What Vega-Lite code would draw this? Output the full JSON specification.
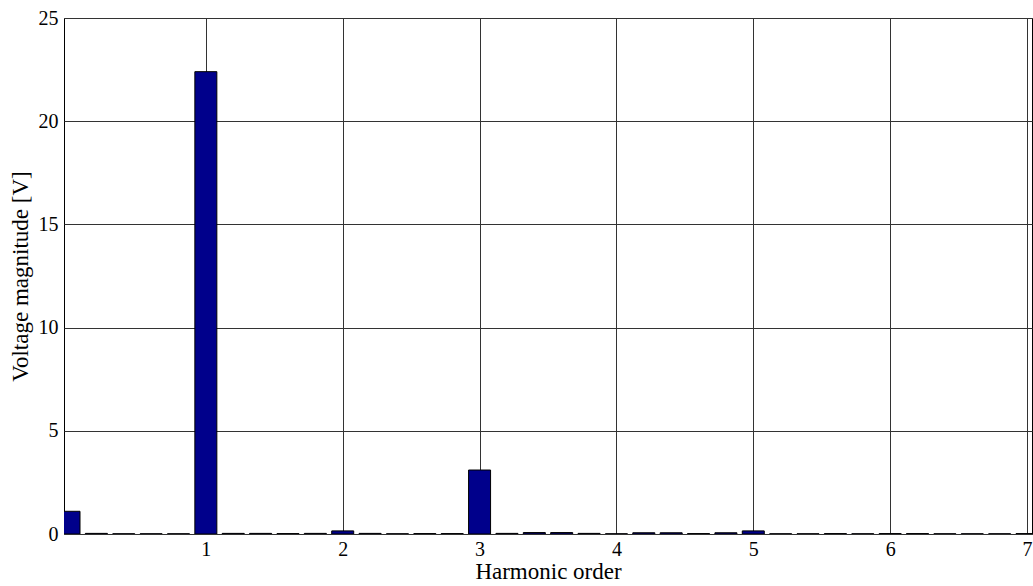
{
  "$schema": "https://vega.github.io/schema/vega-lite/v6.json",
  "width": 968,
  "height": 516,
  "autosize": {"type": "none"},
  "padding": {"left": 64, "top": 18, "right": 1, "bottom": 52},
  "background": "white",
  "view": {"stroke": "black", "strokeWidth": 1},
  "config": {
    "font": "'Liberation Serif', 'Times New Roman', 'DejaVu Serif', serif",
    "axis": {
      "labelFont": "'Liberation Serif', 'Times New Roman', 'DejaVu Serif', serif",
      "titleFont": "'Liberation Serif', 'Times New Roman', 'DejaVu Serif', serif",
      "labelFontSize": 20,
      "titleFontSize": 23,
      "labelColor": "black",
      "titleColor": "black",
      "titleFontWeight": "normal",
      "gridColor": "#333333",
      "gridOpacity": 1,
      "gridWidth": 1,
      "ticks": false,
      "domain": false,
      "labelFlush": false,
      "labelBound": false
    }
  },
  "data": {
    "values": [
      {"order": 0.0, "v": 1.1},
      {"order": 0.2, "v": 0.03},
      {"order": 0.4, "v": 0.01},
      {"order": 0.6, "v": 0.01},
      {"order": 0.8, "v": 0.01},
      {"order": 1.0, "v": 22.4},
      {"order": 1.2, "v": 0.03},
      {"order": 1.4, "v": 0.03},
      {"order": 1.6, "v": 0.02},
      {"order": 1.8, "v": 0.03},
      {"order": 2.0, "v": 0.15},
      {"order": 2.2, "v": 0.03},
      {"order": 2.4, "v": 0.01},
      {"order": 2.6, "v": 0.02},
      {"order": 2.8, "v": 0.02},
      {"order": 3.0, "v": 3.1},
      {"order": 3.2, "v": 0.03},
      {"order": 3.4, "v": 0.07},
      {"order": 3.6, "v": 0.07},
      {"order": 3.8, "v": 0.03},
      {"order": 4.0, "v": 0.01},
      {"order": 4.2, "v": 0.06},
      {"order": 4.4, "v": 0.06},
      {"order": 4.6, "v": 0.02},
      {"order": 4.8, "v": 0.06},
      {"order": 5.0, "v": 0.15},
      {"order": 5.2, "v": 0.01},
      {"order": 5.4, "v": 0.01},
      {"order": 5.6, "v": 0.02},
      {"order": 5.8, "v": 0.01},
      {"order": 6.0, "v": 0.02},
      {"order": 6.2, "v": 0.02},
      {"order": 6.4, "v": 0.01},
      {"order": 6.6, "v": 0.01},
      {"order": 6.8, "v": 0.01},
      {"order": 7.0, "v": 0.02}
    ]
  },
  "mark": {"type": "bar", "size": 22, "color": "#00008B", "stroke": "black", "strokeWidth": 1, "clip": true},
  "encoding": {
    "x": {
      "field": "order",
      "type": "quantitative",
      "scale": {"domain": [0, 7], "nice": false, "zero": false},
      "axis": {
        "title": "Harmonic order",
        "values": [1, 2, 3, 4, 5, 6, 7],
        "format": "d",
        "labelPadding": 5,
        "titlePadding": 1
      }
    },
    "y": {
      "field": "v",
      "type": "quantitative",
      "scale": {"domain": [0, 25], "nice": false},
      "axis": {
        "title": "Voltage magnitude [V]",
        "values": [0, 5, 10, 15, 20, 25],
        "labelPadding": 6,
        "titlePadding": 6
      }
    }
  }
}
